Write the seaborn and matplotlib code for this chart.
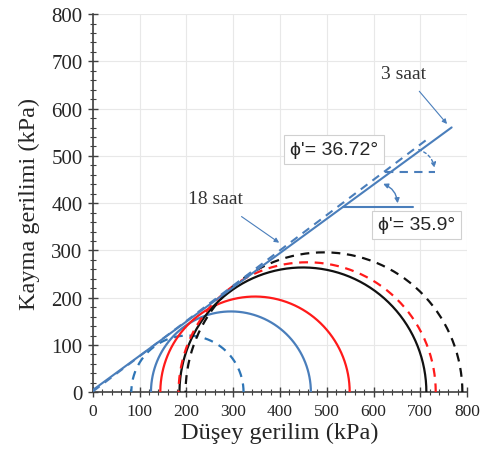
import numpy as np
import pandas as pd
import matplotlib.pyplot as plt
import seaborn as sns
from matplotlib.ticker import MultipleLocator

# Mohr circles: minor / major principal stress (kPa)
circle_names = ['mavi kesikli', 'mavi', 'kirmizi', 'siyah', 'kirmizi kesikli', 'siyah kesikli']
sigma3 = [82, 124, 144, 185, 183, 198]
sigma1 = [322, 466, 549, 713, 733, 790]

# failure envelopes
env_names = ['18 saat', '3 saat']
env_phi = [35.9, 36.72]
env_c = [5, 2]
env_xmax = [767, 713]

circle_style = {
    'mavi kesikli': ('#2e75b6', (4, 3)),
    'mavi': ('#4a7ebb', ''),
    'kirmizi': ('#ff1a1a', ''),
    'siyah': ('#111111', ''),
    'kirmizi kesikli': ('#ff1a1a', (4, 3)),
    'siyah kesikli': ('#111111', (4, 3)),
}

sns.set_style('white')
plt.rcParams['font.family'] = ['Liberation Serif', 'DejaVu Serif']

fig = plt.figure(figsize=(4.83, 4.56), dpi=100)
ax = fig.add_axes([0.1925, 0.1375, 0.7745, 0.8295])

# circles
t = np.linspace(0, np.pi, 200)
for name, s3, s1 in zip(circle_names, sigma3, sigma1):
    c = (s1 + s3) / 2
    r = (s1 - s3) / 2
    col, dash = circle_style[name]
    sns.lineplot(x=c + r * np.cos(t), y=r * np.sin(t), sort=False, estimator=None,
                 color=col, linewidth=1.6, ax=ax, zorder=3)
    if dash:
        ax.lines[-1].set_dashes(dash)

# envelopes
for name, phi, c0, xm in zip(env_names, env_phi, env_c, env_xmax):
    xs = np.array([0, xm])
    ys = c0 + xs * np.tan(np.radians(phi))
    sns.lineplot(x=xs, y=ys, color='#4a7ebb', linewidth=1.5, ax=ax, zorder=4)
    if name == '3 saat':
        ax.lines[-1].set_dashes((4, 3))

# angle marks
ax.plot([535, 685], [391, 391], color='#4a7ebb', lw=1.5)
ax.annotate('', xy=(652, 394), xytext=(615, 443),
            arrowprops=dict(arrowstyle='<|-|>', color='#4a7ebb', lw=1,
                            mutation_scale=7, connectionstyle='arc3,rad=-0.35'))
ax.plot([625, 731], [466, 466], color='#4a7ebb', lw=1.5, dashes=(4, 3))
ax.annotate('', xy=(731, 469), xytext=(691, 515),
            arrowprops=dict(arrowstyle='-|>', color='#4a7ebb', lw=1, ls=(0, (2, 2)),
                            mutation_scale=7, connectionstyle='arc3,rad=-0.35'))

# labels
ax.annotate('3 saat', xy=(761, 563), xytext=(665, 675), ha='center', va='center',
            fontsize=14, color='#333333',
            arrowprops=dict(arrowstyle='-|>', color='#4a7ebb', lw=0.8, mutation_scale=7,
                            shrinkA=6))
ax.annotate('18 saat', xy=(403, 313), xytext=(262, 410), ha='center', va='center',
            fontsize=14, color='#333333',
            arrowprops=dict(arrowstyle='-|>', color='#4a7ebb', lw=0.8, mutation_scale=7,
                            shrinkA=8))
box = dict(boxstyle='square,pad=0.3', fc='white', ec='#d0d0d0', lw=0.8)
ax.text(515, 513, "ϕ'= 36.72°", ha='center', va='center', fontsize=14,
        family=['Liberation Sans', 'DejaVu Sans'], bbox=box, zorder=5)
ax.text(692, 354, "ϕ'= 35.9°", ha='center', va='center', fontsize=14,
        family=['Liberation Sans', 'DejaVu Sans'], bbox=box, zorder=5)

ax.set_xlim(0, 800)
ax.set_ylim(0, 800)
ax.xaxis.set_major_locator(MultipleLocator(100))
ax.yaxis.set_major_locator(MultipleLocator(100))
ax.xaxis.set_minor_locator(MultipleLocator(20))
ax.yaxis.set_minor_locator(MultipleLocator(20))
ax.grid(True, which='major', color='#e8e8e8', lw=0.8)
ax.set_axisbelow(True)
ax.tick_params(which='both', bottom=True, left=True)
ax.tick_params(which='major', direction='inout', length=7, width=1, color='#404040')
ax.tick_params(which='minor', direction='inout', length=4, width=0.8, color='#404040')
ax.tick_params(axis='x', labelsize=12.5, pad=4)
ax.tick_params(axis='y', labelsize=15, pad=4)
for s in ['top', 'right']:
    ax.spines[s].set_visible(False)
for s in ['left', 'bottom']:
    ax.spines[s].set_color('#404040')
    ax.spines[s].set_linewidth(1.2)
ax.set_xlabel('Düşey gerilim (kPa)', fontsize=17.5, labelpad=2)
ax.set_ylabel('Kayma gerilimi (kPa)', fontsize=17.5, labelpad=8)

fig.savefig('out.png', dpi=100)
